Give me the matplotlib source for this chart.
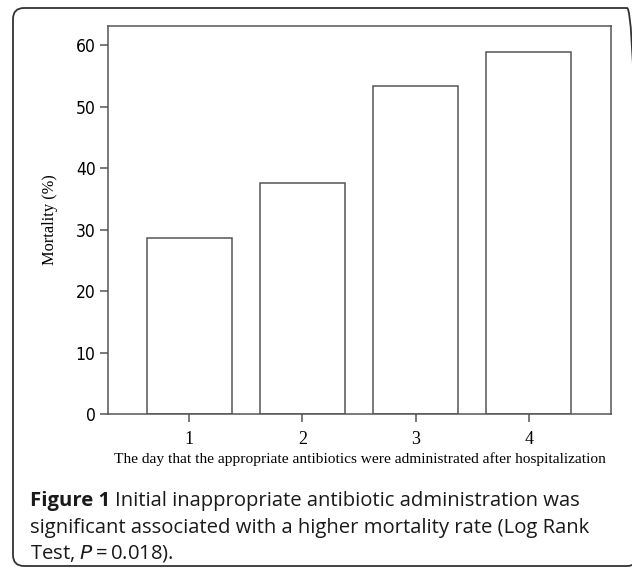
import numpy as np
import matplotlib
matplotlib.use("Agg")
import matplotlib.pyplot as plt
from matplotlib.patches import FancyBboxPatch

days = [1, 2, 3, 4]
mortality = [28.6, 37.5, 53.3, 58.8]
y_ticks = [0, 10, 20, 30, 40, 50, 60]

line_col = "#555555"
serif = ["Liberation Serif", "DejaVu Serif"]

fig = plt.figure(figsize=(6.32, 5.68), dpi=100)

# rounded frame round the whole figure
frame = FancyBboxPatch((0.13, 0.02), 6.25, 5.58,
                       boxstyle="round,pad=0,rounding_size=0.11",
                       transform=fig.dpi_scale_trans,
                       facecolor="none", edgecolor="#333333", linewidth=1.3)
fig.patches.append(frame)

ax = fig.add_axes([0.1709, 0.2711, 0.7959, 0.6831])
ax.bar(days, mortality, width=0.75, facecolor="white",
       edgecolor=line_col, linewidth=1.1)

ax.set_xlim(0.283, 4.725)
ax.set_ylim(0, 63.1)
ax.set_xticks(days)
ax.set_xticklabels([str(d) for d in days], family=serif, fontsize=13)
ax.set_yticks(y_ticks)
ax.set_yticklabels([str(v) for v in y_ticks], family="DejaVu Sans",
                   fontstretch="condensed", fontsize=12.5)
ax.tick_params(direction="out", length=6, width=1.1, color=line_col)
ax.tick_params(axis="x", pad=6)
ax.tick_params(axis="y", pad=3)

for s in ax.spines.values():
    s.set_color(line_col)
    s.set_linewidth(1.1)

ax.set_xlabel("The day that the appropriate antibiotics were administrated after hospitalization",
              family=serif, fontsize=11.1, labelpad=3)
ax.set_ylabel("Mortality (%)", family=serif, fontsize=11.8, labelpad=13)

cap_font = "Open Sans"
cap_col = "#1a1a1a"
cap_size = 14.6
x0 = 30 / 632
head = fig.text(x0, 1 - 501 / 568, "Figure 1", family=cap_font, fontweight="bold",
                fontsize=cap_size, va="center", ha="left", color=cap_col)
fig.canvas.draw()
bb = head.get_window_extent().transformed(fig.transFigure.inverted())
fig.text(bb.x1 + 5 / 632, 1 - 501 / 568, "Initial inappropriate antibiotic administration was",
         family=cap_font, fontsize=cap_size, va="center", ha="left", color=cap_col)
fig.text(x0, 1 - 528 / 568, "significant associated with a higher mortality rate (Log Rank",
         family=cap_font, fontsize=cap_size, va="center", ha="left", color=cap_col)
fig.text(x0, 1 - 553 / 568, "Test, $\\it{P}$$\\,$=$\\,$0.018).",
         family=cap_font, fontsize=cap_size, va="center", ha="left", color=cap_col)

fig.savefig("out.png", dpi=100)
